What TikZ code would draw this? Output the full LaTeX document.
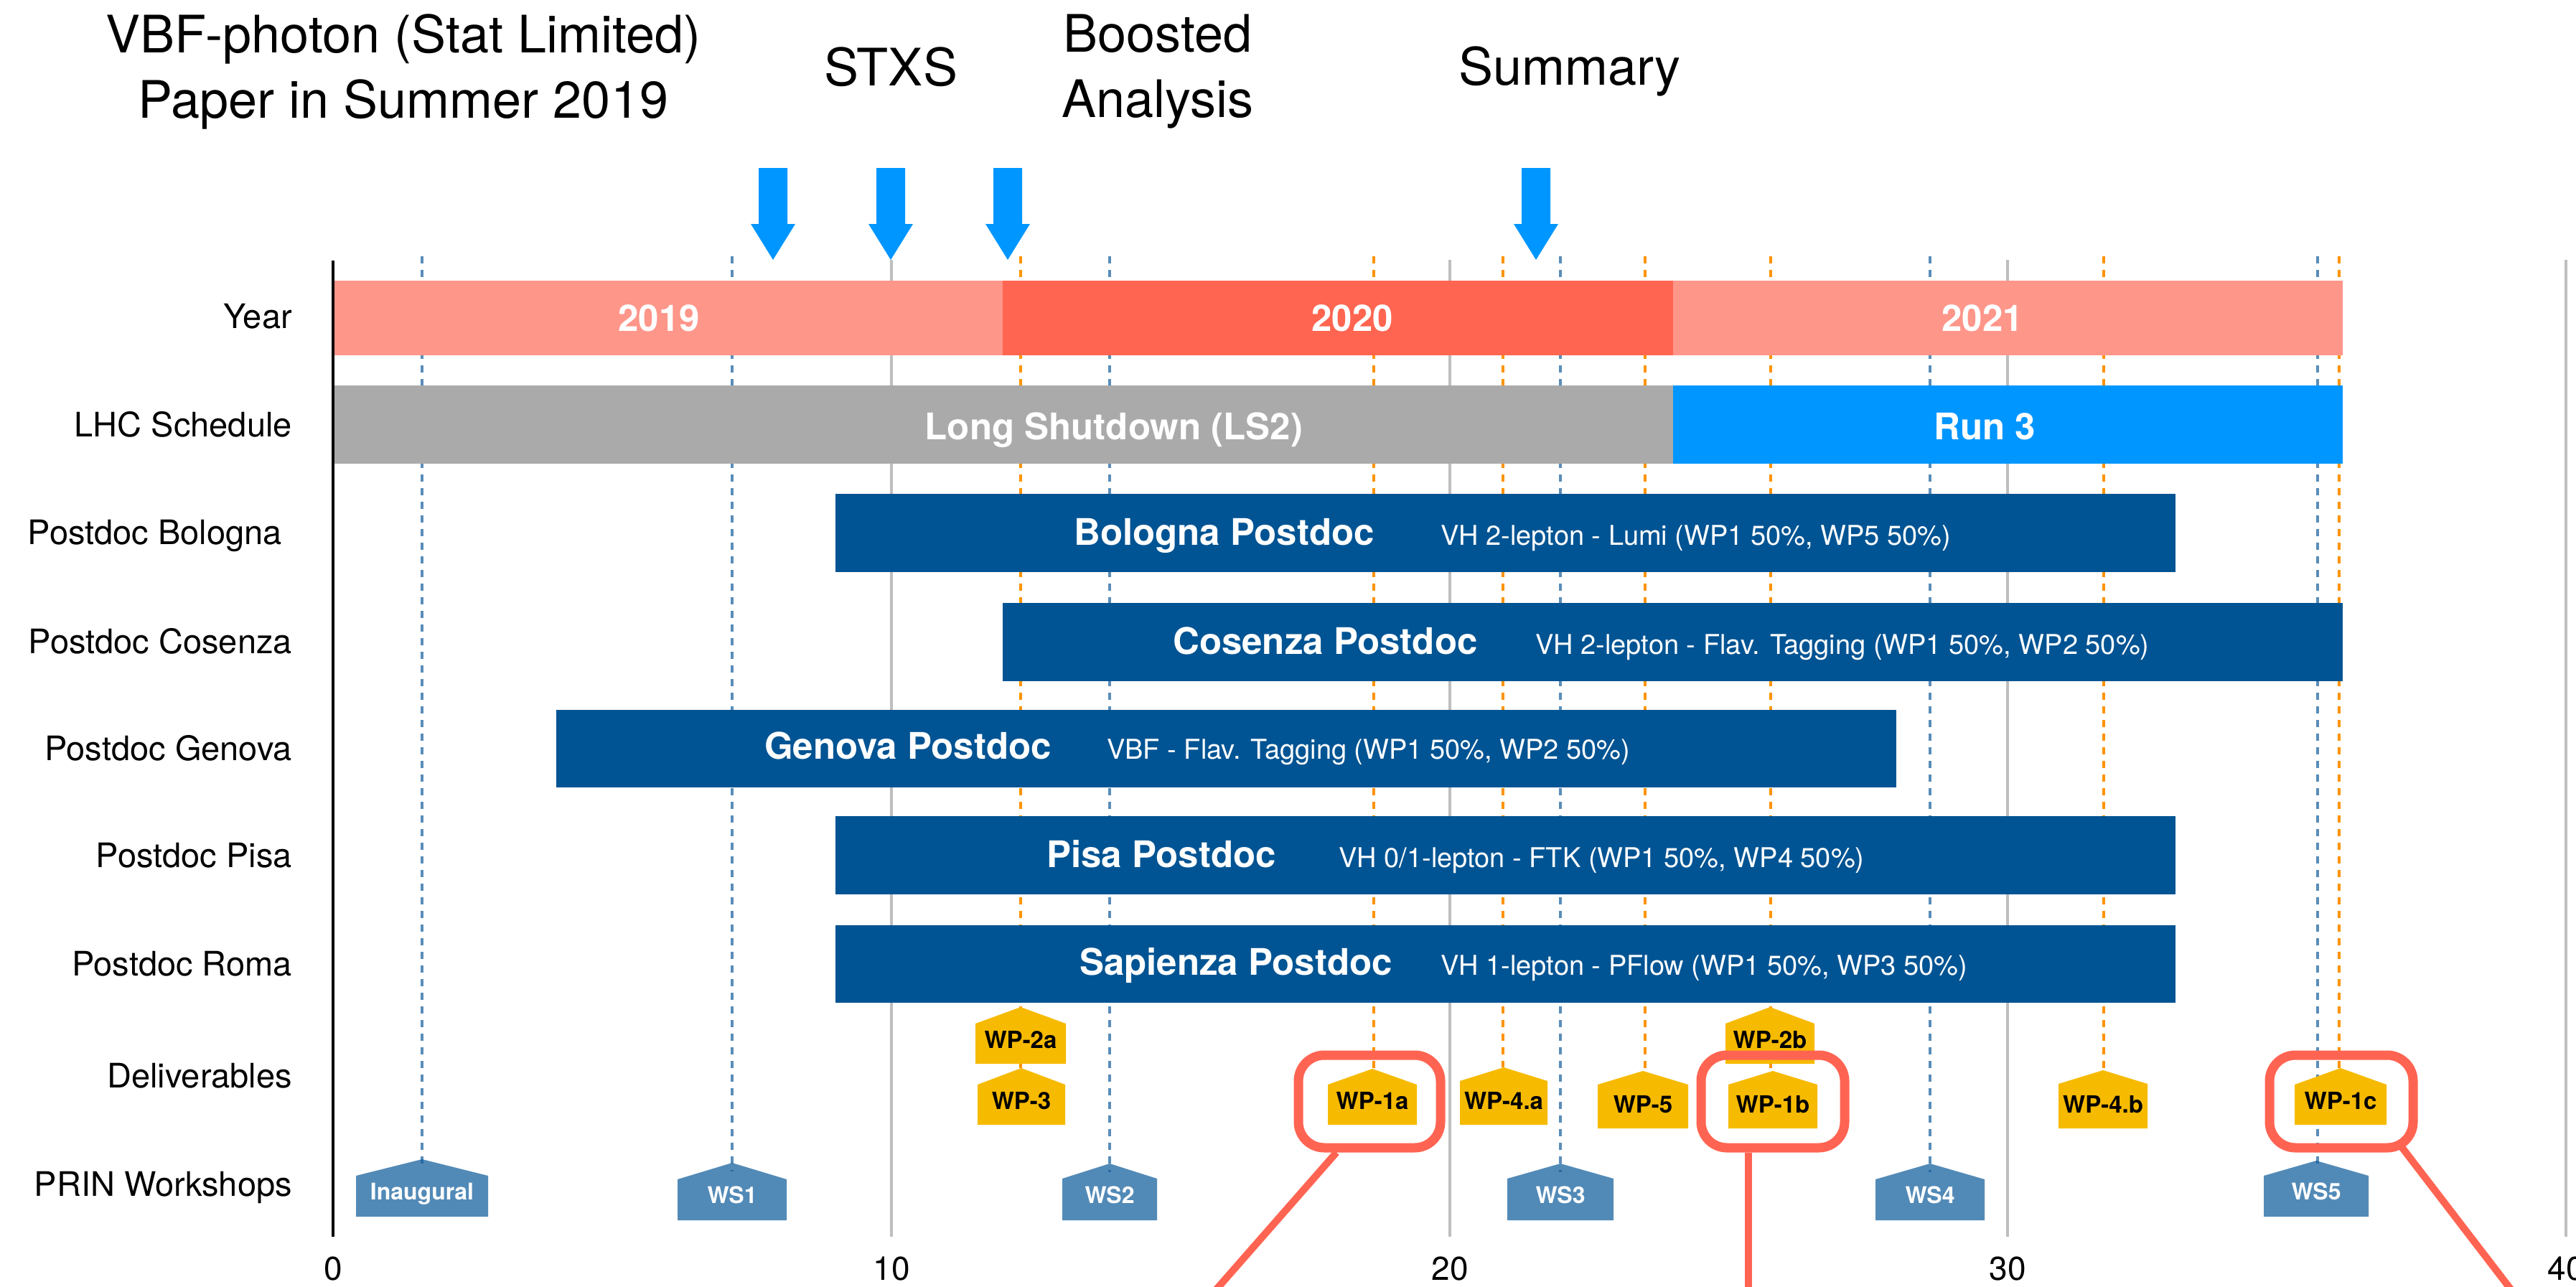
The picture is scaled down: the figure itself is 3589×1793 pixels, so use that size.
\documentclass[tikz,border=0pt]{standalone}
\usepackage{fontspec}
\setmainfont{TeX Gyre Heros}
\newcommand\fsz[1]{\fontsize{#1}{#1}\selectfont}
\definecolor{salmon}{RGB}{255,150,138}
\definecolor{coral}{RGB}{255,101,80}
\definecolor{lhcgray}{RGB}{170,170,170}
\definecolor{skyb}{RGB}{0,150,255}
\definecolor{ocean}{RGB}{0,84,147}
\definecolor{wsblue}{RGB}{82,138,183}
\definecolor{wpgold}{RGB}{246,186,0}
\definecolor{tang}{RGB}{255,147,0}
\definecolor{gridg}{RGB}{190,190,190}
\definecolor{hlred}{RGB}{255,100,82}
\definecolor{bdcol}{RGB}{20,92,155}
\pgfdeclarelayer{grid}
\pgfdeclarelayer{wsl}
\pgfdeclarelayer{lines}
\pgfdeclarelayer{wpl}
\pgfdeclarelayer{fg}
\pgfsetlayers{grid,wsl,lines,main,wpl,fg}
\tikzset{
  lbl/.style={inner sep=0pt, font=\fsz{47}, anchor=base east},
  ttl/.style={inner sep=0pt, font=\fsz{72}, anchor=base},
  bartxt/.style={inner sep=0pt, font=\bfseries\fsz{51}, text=white, anchor=base},
  pdmain/.style={inner sep=0pt, font=\bfseries\fsz{51}, text=white, anchor=base west},
  pdsub/.style={inner sep=0pt, font=\fsz{38}, text=white, anchor=base west},
  ticklbl/.style={inner sep=0pt, font=\fsz{46}, anchor=base},
  wpfill/.style={fill=wpgold},
  wsfill/.style={fill=wsblue},
  wptext/.style={inner sep=0pt, font=\bfseries\fsz{33}, text=black, anchor=base, yshift=22pt},
  wstext/.style={inner sep=0pt, font=\bfseries\fsz{32}, text=white, anchor=base, yshift=24pt},
  gridline/.style={draw=gridg, line width=4pt},
  odash/.style={draw=tang, line width=4pt, dash pattern=on 10pt off 9pt},
  bdash/.style={draw=bdcol, draw opacity=0.7, line width=4pt, dash pattern=on 10pt off 9pt},
  hlbox/.style={draw=hlred, line width=13pt, rounded corners=36pt, inner sep=0pt, minimum height=129pt},
  hlline/.style={draw=hlred, line width=10pt},
  bigarrow/.style={fill=skyb},
}
% layer, name, cx, half width, apex y, shoulder y, bottom y, kind, text
\newcommand\hshape[9]{%
  \begin{pgfonlayer}{#1}
  \fill[#8fill] ({#3-#4},#7) -- ({#3-#4},#6) -- (#3,#5) -- ({#3+#4},#6) -- ({#3+#4},#7) -- cycle;
  \coordinate (#2-apex) at (#3,#5);
  \node[#8text] (#2) at (#3,#7) {#9};
  \end{pgfonlayer}}
\newcommand\bigarr[1]{%
  \fill[bigarrow] ({#1-20},234) -- ({#1+20},234) -- ({#1+20},312) -- ({#1+31},312) -- (#1,362) -- ({#1-31},312) -- ({#1-20},312) -- cycle;}
\begin{document}
\begin{tikzpicture}[x=1pt,y=-1pt]
\useasboundingbox (0,0) rectangle (3589,1793);
\clip (0,0) rectangle (3589,1793);

% grid lines
\begin{pgfonlayer}{grid}
\draw[gridline] (1242,362) -- (1242,1723);
\draw[gridline] (2020,362) -- (2020,1723);
\draw[gridline] (2797,362) -- (2797,1723);
\draw[gridline] (3575,362) -- (3575,1723);
\end{pgfonlayer}

% workshops
\hshape{wsl}{inaug}{588}{92}{1615}{1638}{1695}{ws}{Inaugural}
\hshape{wsl}{ws1}{1020}{76}{1620}{1643}{1700}{ws}{WS1}
\hshape{wsl}{ws2}{1546}{66}{1621}{1642}{1700}{ws}{WS2}
\hshape{wsl}{ws3}{2174}{74}{1621}{1642}{1700}{ws}{WS3}
\hshape{wsl}{ws4}{2689}{76}{1621}{1643}{1700}{ws}{WS4}
\hshape{wsl}{ws5}{3227}{73}{1617}{1638}{1695}{ws}{WS5}

% deliverables
\hshape{wpl}{wp2a}{1422}{63}{1403}{1426}{1482}{wp}{WP-2a}
\hshape{wpl}{wp3}{1423}{61}{1488}{1511}{1567}{wp}{WP-3}
\hshape{wpl}{wp1a}{1912}{62}{1489}{1511}{1567}{wp}{WP-1a}
\hshape{wpl}{wp4a}{2095}{61}{1487}{1506}{1567}{wp}{WP-4.a}
\hshape{wpl}{wp5}{2289}{63}{1492}{1511}{1572}{wp}{WP-5}
\hshape{wpl}{wp2b}{2466}{62}{1403}{1426}{1482}{wp}{WP-2b}
\hshape{wpl}{wp1b}{2470}{62}{1492}{1511}{1572}{wp}{WP-1b}
\hshape{wpl}{wp4b}{2930}{62}{1491}{1510}{1572}{wp}{WP-4.b}
\hshape{wpl}{wp1c}{3261}{64}{1488}{1511}{1567}{wp}{WP-1c}

% dashed drop lines
\begin{pgfonlayer}{lines}
\coordinate (tb1) at (588,357);
\coordinate (tb2) at (1020,357);
\coordinate (tb3) at (1546,357);
\coordinate (tb4) at (2174,357);
\coordinate (tb5) at (2689,357);
\coordinate (tb6) at (3229,357);
\draw[bdash] (tb1) -- ([yshift=-12pt]inaug-apex);
\draw[bdash] (tb2) -- ([yshift=-12pt]ws1-apex);
\draw[bdash] (tb3) -- ([yshift=-12pt]ws2-apex);
\draw[bdash] (tb4) -- ([yshift=-12pt]ws3-apex);
\draw[bdash] (tb5) -- ([yshift=-12pt]ws4-apex);
\draw[bdash] (tb6) -- ([yshift=-12pt]ws5-apex -| tb6);
\coordinate (to1) at (1422,357);
\coordinate (to2) at (1914,357);
\coordinate (to3) at (2094,357);
\coordinate (to4) at (2292,357);
\coordinate (to5) at (2467,357);
\coordinate (to6) at (2931,357);
\coordinate (to7) at (3259,357);
\draw[odash] (to1) -- (wp3-apex -| to1);
\draw[odash] (to2) -- (wp1a-apex -| to2);
\draw[odash] (to3) -- (wp4a-apex -| to3);
\draw[odash] (to4) -- (wp5-apex -| to4);
\draw[odash] (to5) -- (wp1b-apex -| to5);
\draw[odash] (to6) -- (wp4b-apex -| to6);
\draw[odash] (to7) -- (wp1c-apex -| to7);
\end{pgfonlayer}

% bars
\fill[salmon] (464,391) rectangle (1397,495);
\fill[coral] (1397,391) rectangle (2331,495);
\fill[salmon] (2331,391) rectangle (3264,495);
\fill[lhcgray] (464,537) rectangle (2331,646);
\fill[skyb] (2331,537) rectangle (3264,646);
\fill[ocean] (1164,688) rectangle (3031,797);
\fill[ocean] (1397,840) rectangle (3264,949);
\fill[ocean] (775,989) rectangle (2642,1097);
\fill[ocean] (1164,1137) rectangle (3031,1246);
\fill[ocean] (1164,1289) rectangle (3031,1397);

% axis
\draw[line width=4pt] (464,363) -- (464,1723);

% bar texts
\node[bartxt] (y19) at (918,461) {2019};
\node[bartxt] (y20) at (1884,461) {2020};
\node[bartxt] (y21) at (2762,461) {2021};
\node[bartxt] (ls2) at (1552,612) {Long Shutdown (LS2)};
\node[bartxt] (run3) at (2765,612) {Run 3};

\node[pdmain] (pbo) at (1496,759) {Bologna Postdoc};
\node[pdsub] (pbos) at (2007,759) {VH 2-lepton - Lumi (WP1 50\%, WP5 50\%)};
\node[pdmain] (pco) at (1634,911) {Cosenza Postdoc};
\node[pdsub] (pcos) at (2139,911) {VH 2-lepton - Flav. Tagging (WP1 50\%, WP2 50\%)};
\node[pdmain] (pge) at (1065,1057) {Genova Postdoc};
\node[pdsub] (pges) at (1542,1057) {VBF - Flav. Tagging (WP1 50\%, WP2 50\%)};
\node[pdmain] (ppi) at (1458,1208) {Pisa Postdoc};
\node[pdsub] (ppis) at (1865,1208) {VH 0/1-lepton - FTK (WP1 50\%, WP4 50\%)};
\node[pdmain] (pro) at (1504,1358) {Sapienza Postdoc};
\node[pdsub] (pros) at (2007,1358) {VH 1-lepton - PFlow (WP1 50\%, WP3 50\%)};

% row labels
\node[lbl] (lyear) at (407,457) {Year};
\node[lbl] (llhc) at (407,608) {LHC Schedule};
\node[lbl] (lbo) at (393,758) {Postdoc Bologna};
\node[lbl] (lco) at (407,910) {Postdoc Cosenza};
\node[lbl] (lge) at (407,1059) {Postdoc Genova};
\node[lbl] (lpi) at (407,1208) {Postdoc Pisa};
\node[lbl] (lro) at (407,1359) {Postdoc Roma};
\node[lbl] (ldel) at (407,1515) {Deliverables};
\node[lbl] (lws) at (407,1666) {PRIN Workshops};

% ticks
\node[ticklbl] (t0) at (464,1783) {0};
\node[ticklbl] (t10) at (1242,1783) {10};
\node[ticklbl] (t20) at (2020,1783) {20};
\node[ticklbl] (t30) at (2797,1783) {30};
\node[ticklbl] (t40) at (3575,1783) {40};

% top titles and arrows
\node[ttl] (ti1a) at (562,74) {VBF-photon (Stat Limited)};
\node[ttl] (ti1b) at (562,164) {Paper in Summer 2019};
\node[ttl] (ti2) at (1241,119) {STXS};
\node[ttl] (ti3a) at (1613,73) {Boosted};
\node[ttl] (ti3b) at (1613,163) {Analysis};
\node[ttl] (ti4) at (2187,118) {Summary};
\bigarr{1077}
\bigarr{1241}
\bigarr{1404}
\bigarr{2140}

% highlights
\begin{pgfonlayer}{fg}
\node[hlbox, minimum width=198pt] (h1) at (1908,1534.5) {};
\node[hlbox, minimum width=200pt] (h2) at (2470,1534.5) {};
\node[hlbox, minimum width=200pt] (h3) at (3262,1534.5) {};
\coordinate (e1) at (1680,1813);
\coordinate (e2) at (2436,1813);
\coordinate (e3) at (3511,1813);
\draw[hlline] ([xshift=-46pt]h1.south) -- (e1);
\draw[hlline] ([xshift=-34pt]h2.south) -- (e2);
\draw[hlline] ([xshift=-22pt,yshift=7pt]h3.south east) -- (e3);
\end{pgfonlayer}
\end{tikzpicture}
\end{document}
